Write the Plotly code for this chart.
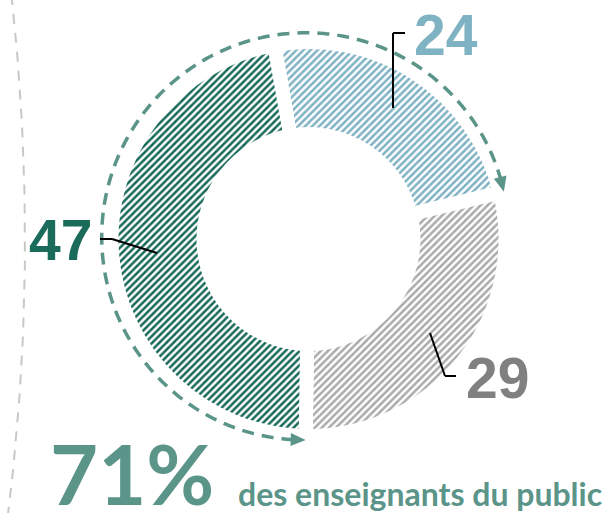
import numpy as np
import plotly.graph_objects as go

# ---- data ----
categories = ["Catégorie A", "Catégorie B", "Catégorie C"]
values = [24, 29, 47]
value_labels = ["24", "29", "47"]
colors = ["#7fb2c3", "#aaaaaa", "#17695a"]
text_colors = ["#7fb2c3", "#808080", "#1b6b5b"]
headline_value = "71%"
headline_text = "des enseignants du public"

W, H = 613, 513
cx, cy = 308.5, 239.0
R = 197.0
ARC_COLOR = "#5b9488"

fig = go.Figure()

# left decorative dashed gray curve
ys = np.linspace(-5, 518, 60)
xs = 25 - 2.26e-4 * (ys - 240) ** 2
fig.add_trace(go.Scatter(x=xs, y=ys, mode="lines",
                         line=dict(color="#c8c8c8", width=2, dash="10px,9px"),
                         hoverinfo="skip", showlegend=False))

shapes = []

# dashed arc covering the share of the first + last slices (24 + 47 = 71)
total = sum(values)
start_deg = -10.0
share = (values[0] + values[2]) / total * 360.0
th_end_bottom = start_deg + (values[0] + values[1]) / total * 360.0


def arc_r(t):
    return 201 + 6.5 * np.sin(np.pi * (t - th_end_bottom) / share)


def pt(t, r):
    return cx + r * np.sin(np.radians(t)), cy - r * np.cos(np.radians(t))


th = np.linspace(th_end_bottom + 3.5, th_end_bottom + share - 3.5, 240)
ax_, ay_ = pt(th, arc_r(th))
arc_path = "M " + " L ".join(f"{x:.2f},{y:.2f}" for x, y in zip(ax_, ay_))
shapes.append(dict(type="path", xref="x", yref="y", path=arc_path,
                   line=dict(color=ARC_COLOR, width=3.5, dash="12px,8px"), layer="above"))


def arrowhead(t_tip, t_back, length=15, half=6.5):
    tx, ty = pt(t_tip, arc_r(t_tip))
    bx, by = pt(t_back, arc_r(t_back))
    d = np.array([tx - bx, ty - by])
    d = d / np.linalg.norm(d)
    n = np.array([-d[1], d[0]])
    base = np.array([tx, ty]) - d * length
    p1 = base + n * half
    p2 = base - n * half
    path = f"M {tx:.2f},{ty:.2f} L {p1[0]:.2f},{p1[1]:.2f} L {p2[0]:.2f},{p2[1]:.2f} Z"
    shapes.append(dict(type="path", xref="x", yref="y", path=path,
                       fillcolor=ARC_COLOR, line=dict(width=0), layer="above"))


arrowhead(th_end_bottom, th_end_bottom + 4)
arrowhead(th_end_bottom + share, th_end_bottom + share - 4)

# donut
fig.add_trace(go.Pie(
    labels=categories, values=values, sort=False, direction="clockwise",
    rotation=start_deg, hole=0.533, textinfo="none", hoverinfo="label+value",
    marker=dict(colors=colors,
                line=dict(color="white", width=14),
                pattern=dict(shape="/", fgcolor=colors, bgcolor="white",
                             size=5, solidity=0.5, fillmode="replace")),
    domain=dict(x=[(cx - R) / W, (cx + R) / W],
                y=[(H - cy - R) / H, (H - cy + R) / H]),
    showlegend=False,
))


# leader lines
def seg(x0, y0, x1, y1):
    shapes.append(dict(type="line", xref="x", yref="y", x0=x0, y0=y0, x1=x1, y1=y1,
                       line=dict(color="black", width=2), layer="above"))


seg(393, 108, 393, 33); seg(393, 33, 405, 33)
seg(100, 239, 112, 239); seg(112, 239, 157, 253)
seg(430, 333, 445, 376); seg(445, 376, 456, 376)

annotations = [
    dict(x=446, y=35, text=value_labels[0], font=dict(color=text_colors[0])),
    dict(x=497, y=378, text=value_labels[1], font=dict(color=text_colors[1])),
    dict(x=60, y=240, text=value_labels[2], font=dict(color=text_colors[2])),
]
for a in annotations:
    a.update(xref="x", yref="y", showarrow=False, xanchor="center", yanchor="middle")
    a["font"].update(family="Liberation Sans, Arial", size=57, weight="bold")

annotations.append(dict(x=48, y=472.6, xref="x", yref="y", text=headline_value, showarrow=False,
                        xanchor="left", yanchor="middle",
                        font=dict(family="Lato", size=83, weight="bold", color=ARC_COLOR)))
annotations.append(dict(x=236, y=493.5, xref="x", yref="y", text=headline_text, showarrow=False,
                        xanchor="left", yanchor="middle",
                        font=dict(family="Lato", size=32, weight="bold", color=ARC_COLOR)))

fig.update_layout(
    width=W, height=H, margin=dict(l=0, r=0, t=0, b=0),
    paper_bgcolor="white", plot_bgcolor="white",
    xaxis=dict(range=[0, W], visible=False, fixedrange=True),
    yaxis=dict(range=[H, 0], visible=False, fixedrange=True),
    shapes=shapes, annotations=annotations,
)
fig.write_html("out.html", config={"displayModeBar": False})

# remove the default page margin so the figure sits at the window's top-left corner
with open("out.html", "r", encoding="utf-8") as f:
    html = f.read()
html = html.replace("<head>", "<head><style>html,body{margin:0;padding:0;overflow:hidden;}</style>", 1)
with open("out.html", "w", encoding="utf-8") as f:
    f.write(html)
